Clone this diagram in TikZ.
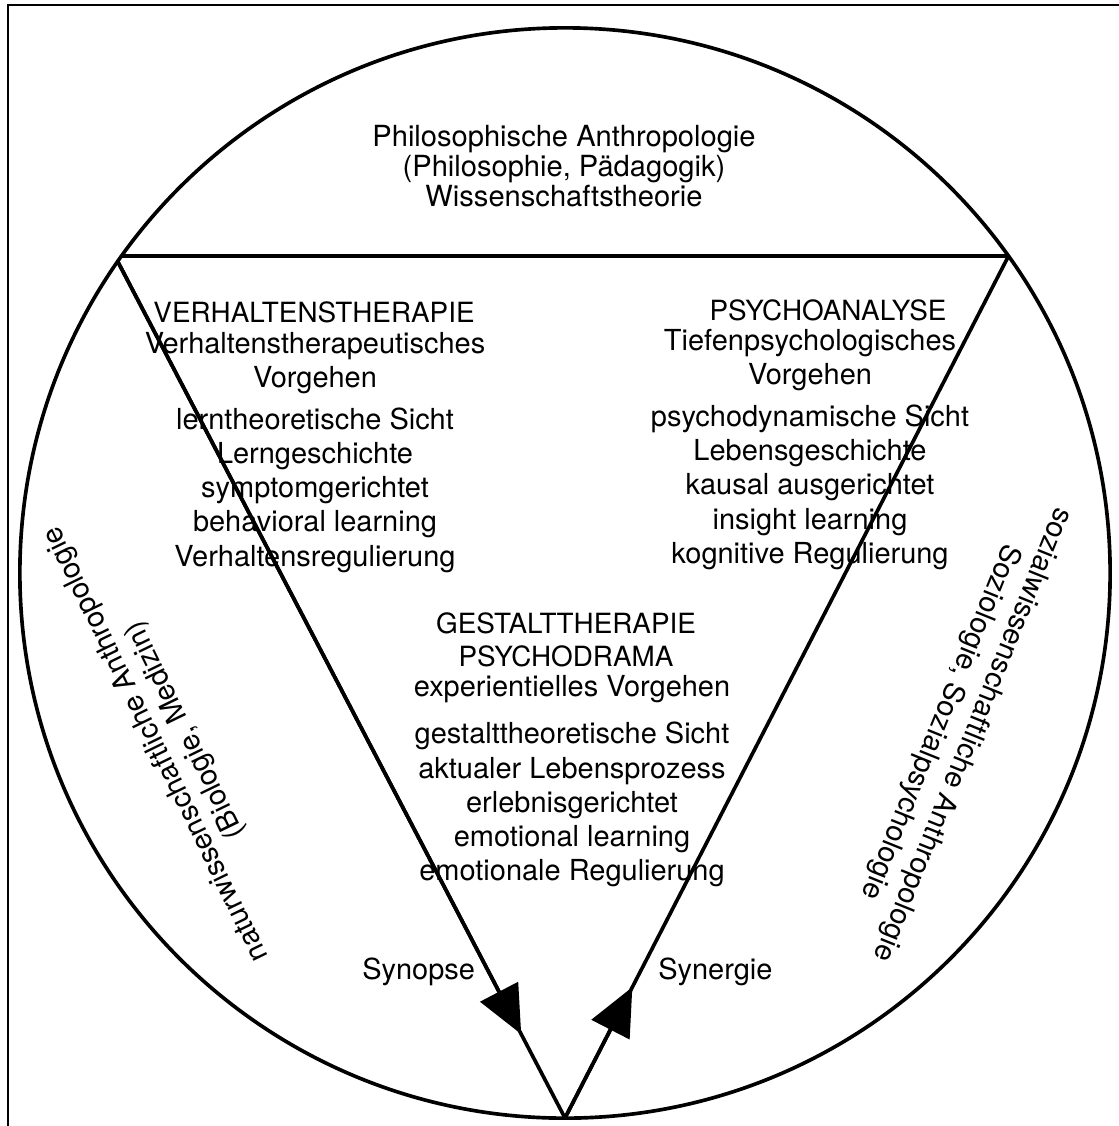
\documentclass[tikz,border=0pt]{standalone}
\usepackage{fontspec}
\setmainfont{TeX Gyre Heros}
\usetikzlibrary{arrows.meta}
\usetikzlibrary{calc}
\tikzset{
 linie/.style={
 line width=2.6pt,
 line join=round},
 pfeil/.style={
 -{Triangle[length=34pt,width=30pt]}},
 titel/.style={
 font=\fontsize{19.8}{23.5}\selectfont,
 align=center,
 inner sep=0pt},
 inhalt/.style={
 font=\fontsize{20.6}{24.3}\selectfont,
 align=center,
 inner sep=0pt},
 seite/.style={
 font=\fontsize{20.6}{23}\selectfont,
 align=center,
 inner sep=0pt}
}

\begin{document}
\begin{tikzpicture}[x=0.025cm,y=-0.025cm]
 \useasboundingbox (0,0) rectangle (1119,1126);
 \draw[line width=2pt] (1119,5) -- (8,5) -- (8,1126);

 % Kreis, Sehne und Dreieck
 \coordinate (M) at (565,573);
 \coordinate (sehneL) at (121.7,256);
 \coordinate (sehneR) at (1008.3,256);
 \coordinate (L) at (118,262);
 \coordinate (R) at (1008,257);
 \coordinate (A) at (565,1118);
 \coordinate (spitzeL) at ($(L)!0.902!(A)$);
 \coordinate (spitzeR) at ($(A)!0.152!(R)$);

 \draw[linie] (M) circle[radius=13.625cm];
 \draw[linie] (sehneL) -- (sehneR);
 \draw[linie] (L) -- (A) -- (R);
 \draw[linie,pfeil] (L) -- (spitzeL);
 \draw[linie,pfeil] (A) -- (spitzeR);

 \node[inhalt, font=\fontsize{20.7}{21.3}\selectfont, anchor=north] (philo) at (564,125)
 {Philosophische Anthropologie\\ (Philosophie, Pädagogik)\\ Wissenschaftstheorie};

 \node[titel, anchor=base] (verhTitel) at (314,322) {VERHALTENSTHERAPIE};
 \node[inhalt, anchor=north] (verhText) at (315,332)
 {Verhaltenstherapeutisches\\ Vorgehen\\[5.5pt] lerntheoretische Sicht\\ Lerngeschichte\\
 symptomgerichtet\\ behavioral learning\\ Verhaltensregulierung};

 \node[titel, anchor=base] (psyTitel) at (828,320) {PSYCHOANALYSE};
 \node[inhalt, anchor=north] (psyText) at (810,329)
 {Tiefenpsychologisches\\ Vorgehen\\[5.5pt] psychodynamische Sicht\\ Lebensgeschichte\\
 kausal ausgerichtet\\ insight learning\\ kognitive Regulierung};

 \node[titel, anchor=north] (gestaltTitel) at (566,612) {GESTALTTHERAPIE\\ PSYCHODRAMA};
 \node[inhalt, anchor=north] (gestaltText) at (572,675)
 {experientielles Vorgehen\\[9.5pt] gestalttheoretische Sicht\\ aktualer Lebensprozess\\
 erlebnisgerichtet\\ emotional learning\\ emotionale Regulierung};

 \node[seite, rotate=116] (natur) at (171,737)
 {naturwissenschaftliche Anthropologie\\ (Biologie, Medizin)};
 \node[seite, font=\fontsize{20.6}{24.5}\selectfont, rotate=248] (sozial) at (956,728)
 {sozialwissenschaftliche Anthropologie\\ Soziologie, Sozialpsychologie};

 \node[inhalt, anchor=base west] (synopse) at (362,979) {Synopse};
 \node[inhalt, anchor=base west] (synergie) at (658,979) {Synergie};
\end{tikzpicture}
\end{document}
